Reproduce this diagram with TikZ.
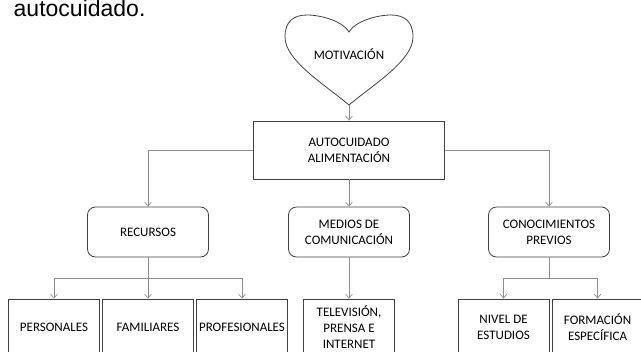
\documentclass[tikz,border=0pt]{standalone}
\usepackage{fontspec}
\setmainfont{Carlito}
\newfontfamily\capfont{Liberation Sans}
\usetikzlibrary{arrows.meta,positioning}
\definecolor{boxgray}{HTML}{404040}
\definecolor{linegray}{HTML}{8C8C8C}

\begin{document}
\begin{tikzpicture}[%
>={Straight Barb[length=3pt,width=5pt]},
node distance=61.5pt,
on grid,
font=\fontsize{9.75}{12}\selectfont,
box/.style={draw=boxgray, line width=0.6pt, align=center, inner sep=2pt},
topbox/.style={box, minimum width=143.25pt, minimum height=43.5pt},
midbox/.style={box, rounded corners=6pt, minimum width=90.75pt, minimum height=37.5pt},
leafbox/.style={box, minimum width=68.25pt, minimum height=42pt},
link/.style={->, draw=linegray, line width=0.5pt}
]
\clip (-261.75pt,112.5pt) rectangle (219pt,-150.75pt);

\node[topbox] (auto) {AUTOCUIDADO\\ALIMENTACIÓN};
\node (motiv) [above=72pt of auto] {MOTIVACIÓN};
\node[midbox] (medios) [below=of auto] {MEDIOS DE\\COMUNICACIÓN};
\node[midbox] (recursos) [left=150.75pt of medios] {RECURSOS};
\node[midbox] (conoc) [right=150pt of medios] {CONOCIMIENTOS\\PREVIOS};
\node[leafbox] (tele) [below=71.25pt of medios] {TELEVISIÓN,\\PRENSA E\\INTERNET};
\node[leafbox] (famil) [below=71.25pt of recursos] {FAMILIARES};
\node[leafbox] (pers) [left=70.5pt of famil] {PERSONALES};
\node[leafbox] (prof) [right=70.5pt of famil] {PROFESIONALES};
\node[leafbox] (nivel) [below left=71.25pt and 34.1pt of conoc] {NIVEL DE\\ESTUDIOS};
\node[leafbox] (form) [right=70.5pt of nivel] {FORMACIÓN\\ESPECÍFICA};

\node[anchor=base west, font=\capfont\fontsize{17.25}{20}\selectfont] (capt)
  at (-255pt,100.5pt) {autocuidado.};

% heart round the motivation label
\coordinate[below=38.25pt of motiv] (tip);
\begin{scope}[shift={(motiv.center)}]
\draw[boxgray, line width=0.6pt] (0,-38.25pt)
  .. controls (-18pt,-23pt) and (-48pt,-5pt) .. (-48pt,12.75pt)
  .. controls (-48pt,24pt) and (-42pt,29.25pt) .. (-31.5pt,29.25pt)
  .. controls (-20pt,29.25pt) and (-4pt,24pt) .. (0,16.5pt)
  .. controls (4pt,24pt) and (20pt,29.25pt) .. (31.5pt,29.25pt)
  .. controls (42pt,29.25pt) and (48pt,24pt) .. (48pt,12.75pt)
  .. controls (48pt,-5pt) and (18pt,-23pt) .. cycle;
\end{scope}

% connectors
\coordinate[below=34.5pt of recursos] (rsplit);
\coordinate[below=34.5pt of conoc] (csplit);
\draw[link] (tip) -- (auto);
\draw[link] (auto.west) -| (recursos);
\draw[link] (auto.east) -| (conoc);
\draw[link] (auto) -- (medios);
\draw[link] (medios) -- (tele);
\draw[linegray, line width=0.5pt] (recursos) -- (rsplit);
\draw[link] (rsplit) -| (pers);
\draw[link] (rsplit) -- (famil);
\draw[link] (rsplit) -| (prof);
\draw[linegray, line width=0.5pt] (conoc) -- (csplit);
\draw[link] (csplit) -| (nivel);
\draw[link] (csplit) -| (form);
\end{tikzpicture}
\end{document}
